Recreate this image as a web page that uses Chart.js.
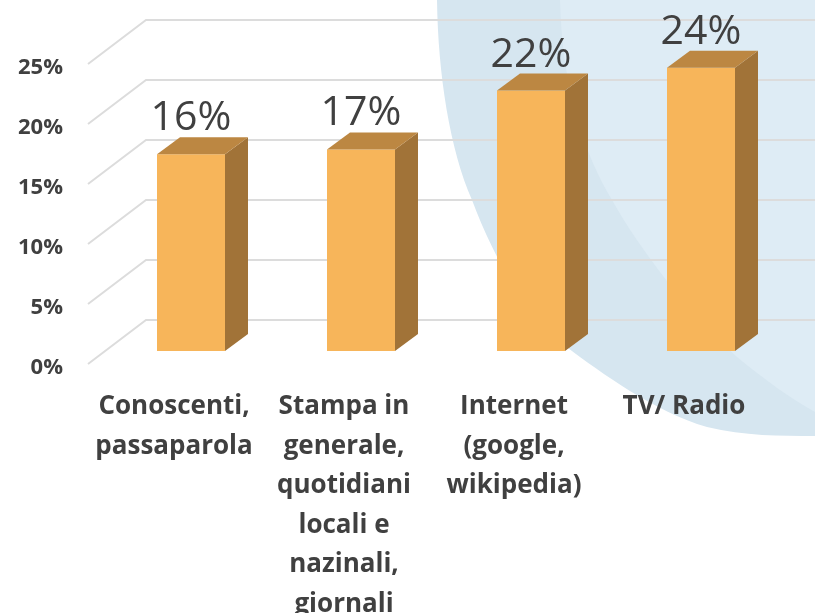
<!DOCTYPE html>
<html>
<head>
<meta charset="utf-8">
<style>
  html, body { margin: 0; padding: 0; background: #fff; }
  canvas { display: block; }
</style>
<script src="https://cdn.jsdelivr.net/npm/chart.js@4"></script>
</head>
<body>
<canvas id="grafico" width="815" height="613"></canvas>
<script>
const categorie = [
    ['Conoscenti,', 'passaparola'],
    ['Stampa in', 'generale,', 'quotidiani', 'locali e', 'nazinali,', 'giornali'],
    ['Internet', '(google,', 'wikipedia)'],
    ['TV/ Radio']
]
const valori = [16.4, 16.8, 21.7, 23.6]
const tickValori = [0, 5, 10, 15, 20, 25]

const TESTO = '#404040'
const GRIGLIA = '#dcdcdc'

// sfondo: cerchio azzurro tagliato dal bordo della pagina
const sfondo = {
    id: 'sfondo',
    beforeDraw(chart) {
        const ctx = chart.ctx
        ctx.save()
        ctx.fillStyle = '#d6e6f0'
        ctx.beginPath()
        ctx.moveTo(437, 0)
        ctx.bezierCurveTo(438, 75, 450, 150, 472, 200)
        ctx.bezierCurveTo(495, 262, 530, 320, 568, 348)
        ctx.bezierCurveTo(600, 372, 655, 412, 707, 427)
        ctx.bezierCurveTo(745, 436, 780, 436, 815, 436)
        ctx.lineTo(815, 0)
        ctx.closePath()
        ctx.fill()
        ctx.fillStyle = '#deecf5'
        ctx.beginPath()
        ctx.moveTo(560, 0)
        ctx.bezierCurveTo(562, 90, 585, 155, 612, 200)
        ctx.bezierCurveTo(640, 250, 690, 315, 737, 357)
        ctx.bezierCurveTo(765, 380, 790, 398, 815, 412)
        ctx.lineTo(815, 0)
        ctx.closePath()
        ctx.fill()
        ctx.restore()
    }
}

// griglia in prospettiva: parete di fondo e pavimento obliquo, dai tick della scala
const griglia3d = {
    id: 'griglia3d',
    beforeDatasetsDraw(chart) {
        const ctx = chart.ctx
        const y = chart.scales.y
        ctx.save()
        ctx.strokeStyle = GRIGLIA
        ctx.lineWidth = 2
        tickValori.forEach(v => {
            const p = y.getPixelForValue(v)
            ctx.beginPath()
            ctx.moveTo(88, p + 13)
            ctx.lineTo(146, p - 31)
            ctx.lineTo(chart.width, p - 31)
            ctx.stroke()
        })
        ctx.restore()
    }
}

// facce laterale e superiore delle barre
const barre3d = {
    id: 'barre3d',
    afterDatasetsDraw(chart) {
        const ctx = chart.ctx
        const dx = 23, dy = 17
        chart.getDatasetMeta(0).data.forEach(bar => {
            const l = bar.x - bar.width / 2, r = bar.x + bar.width / 2
            ctx.fillStyle = '#a17338'
            ctx.beginPath()
            ctx.moveTo(r, bar.y)
            ctx.lineTo(r + dx, bar.y - dy)
            ctx.lineTo(r + dx, bar.base - dy)
            ctx.lineTo(r, bar.base)
            ctx.closePath()
            ctx.fill()
            ctx.fillStyle = '#bc8742'
            ctx.beginPath()
            ctx.moveTo(l, bar.y)
            ctx.lineTo(l + dx, bar.y - dy)
            ctx.lineTo(r + dx, bar.y - dy)
            ctx.lineTo(r, bar.y)
            ctx.closePath()
            ctx.fill()
        })
    }
}

// etichette dei valori sopra le barre
const etichette = {
    id: 'etichette',
    afterDraw(chart) {
        const ctx = chart.ctx
        ctx.save()
        ctx.fillStyle = TESTO
        ctx.font = '41px "Open Sans"'
        ctx.textAlign = 'center'
        ctx.textBaseline = 'alphabetic'
        chart.getDatasetMeta(0).data.forEach((bar, i) => {
            ctx.fillText(Math.round(valori[i]) + '%', bar.x, bar.y - 24)
        })
        ctx.restore()
    }
}

new Chart(document.getElementById('grafico').getContext('2d'), {
    type: 'bar',
    data: {
        labels: categorie,
        datasets: [{ data: valori, backgroundColor: '#f7b55a', barPercentage: 0.4, categoryPercentage: 1 }]
    },
    options: {
        responsive: false,
        animation: false,
        layout: { padding: { top: 51, right: 29 } },
        plugins: { legend: { display: false }, tooltip: { enabled: false } },
        scales: {
            x: {
                afterFit: s => { s.height = 262; s.paddingLeft = 0; s.paddingRight = 0 },
                grid: { display: false },
                border: { display: false },
                ticks: {
                    autoSkip: false, maxRotation: 0, minRotation: 0, padding: 28, labelOffset: -17,
                    color: TESTO, font: { family: 'Open Sans', weight: 'bold', size: 26, lineHeight: 1.52 }
                }
            },
            y: {
                min: 0,
                max: 25,
                afterFit: s => { s.width = 106; s.paddingTop = 0; s.paddingBottom = 0 },
                afterBuildTicks: s => { s.ticks = tickValori.map(v => ({ value: v })) },
                grid: { display: false },
                border: { display: false },
                ticks: {
                    padding: 35, labelOffset: 17, color: TESTO,
                    font: { family: 'Open Sans', weight: 'bold', size: 22 },
                    callback: v => v + '%'
                }
            }
        }
    },
    plugins: [sfondo, griglia3d, barre3d, etichette]
})
</script>
</body>
</html>
